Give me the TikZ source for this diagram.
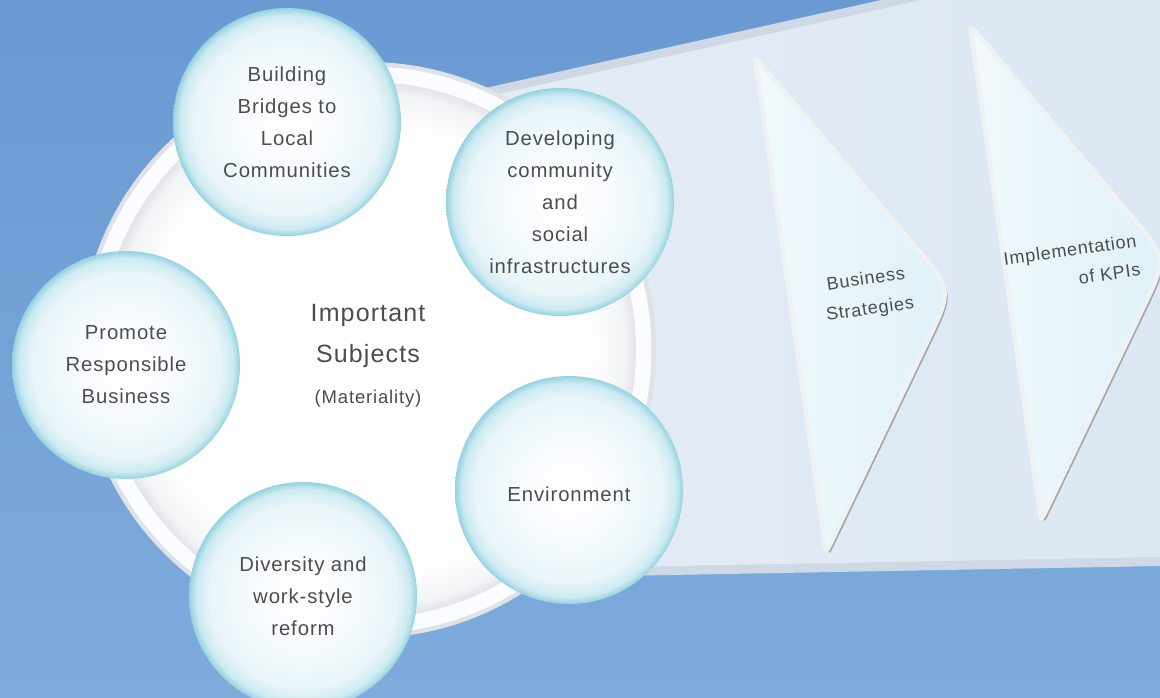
\documentclass[tikz,border=0pt]{standalone}
\usepackage{fontspec}
\setmainfont{Liberation Sans}
\newfontfamily\lblfont{Liberation Sans}[LetterSpace=4.5]
\usetikzlibrary{calc}

% palette
\definecolor{bgTop}{HTML}{6A9AD2}
\definecolor{bgBot}{HTML}{7EABDC}
\definecolor{panelBand}{HTML}{CFD9E5}
\definecolor{panelL}{HTML}{E5ECF6}
\definecolor{panelR}{HTML}{DCE7F3}
\definecolor{rimGray}{HTML}{DFE2E6}
\definecolor{rimWhite}{HTML}{FAFCFE}
\definecolor{diskEdge}{HTML}{E2E5E9}
\definecolor{diskMid}{HTML}{F2F4F6}
\definecolor{bubA}{HTML}{F7FBFD}
\definecolor{bubB}{HTML}{E8F5F9}
\definecolor{bubC}{HTML}{CBEAF1}
\definecolor{bubEdge}{HTML}{95D2DF}
\definecolor{txt}{HTML}{4D4D4D}
\definecolor{triL}{HTML}{F2F9FC}
\definecolor{triR}{HTML}{DEF1F7}
\definecolor{triRim}{HTML}{F0F1F2}
\definecolor{triShadow}{HTML}{A3A7AC}

% glassy topic bubble: white core, cyan rim at the edge (25bp = circle edge)
\pgfdeclareradialshading{bubbleshade}{\pgfpoint{0bp}{0bp}}{color(0bp)=(white); color(11bp)=(bubA); color(20.5bp)=(bubB); color(23.5bp)=(bubC); color(25bp)=(bubEdge); color(50bp)=(bubEdge)}
% central disk: white with a soft grey inner edge
\pgfdeclareradialshading{diskshade}{\pgfpoint{0bp}{0bp}}{color(0bp)=(white); color(20.5bp)=(white); color(24bp)=(diskMid); color(25bp)=(diskEdge); color(50bp)=(diskEdge)}

\tikzset{
  topic/.style={circle, minimum size=228pt, inner sep=0pt, shading=bubbleshade,
    text=txt, align=center, font=\lblfont\fontsize{20.3}{32}\selectfont},
  steplabel/.style={text=txt, align=center, inner sep=0pt,
    font=\lblfont\fontsize{18}{30}\selectfont},
  arrowtri/.style={preaction={fill=triShadow, transform canvas={shift={(3pt,-3pt)}}},
    left color=triL, right color=triR, draw=triRim, line width=4.5pt}
}

\begin{document}
\begin{tikzpicture}[x=1pt, y=-1pt]
  % backdrop
  \shade[top color=bgTop, bottom color=bgBot] (0,0) rectangle (1160,698);
  \useasboundingbox (0,0) rectangle (1160,698);
  \clip (0,0) rectangle (1160,698);

  % widening panel behind the steps
  \fill[panelBand] (400,107) -- (1160,-62) -- (1160,566) -- (400,580) -- cycle;
  \shade[left color=panelL, right color=panelR] (400,116) -- (1160,-53) -- (1160,557) -- (400,571) -- cycle;

  % step chevrons (rounded triangles)
  \coordinate (tA1) at (755,57);  \coordinate (tB1) at (952,290);  \coordinate (tC1) at (826,553);
  \coordinate (tA2) at (970,25);  \coordinate (tB2) at (1167,258); \coordinate (tC2) at (1041,521);
  \foreach \i in {1,2}{
    \path[arrowtri] ($(tA\i)!0.5!(tC\i)$) -- ($(tA\i)!14pt!(tC\i)$) .. controls (tA\i) .. ($(tA\i)!14pt!(tB\i)$)
      -- ($(tB\i)!56pt!(tA\i)$) .. controls (tB\i) .. ($(tB\i)!56pt!(tC\i)$)
      -- ($(tC\i)!14pt!(tB\i)$) .. controls (tC\i) .. ($(tC\i)!14pt!(tA\i)$) -- cycle;
  }
  \node[steplabel, rotate=8] (strat) at (868,295) {Business\\Strategies};
  \node[steplabel, rotate=8, align=right, font=\lblfont\fontsize{18}{29}\selectfont] (kpi) at (1072,264) {Implementation\\of KPIs};

  % central materiality disk
  \fill[rimGray] (368,350) circle[radius=288pt];
  \fill[rimWhite] (368,350) circle[radius=283.5pt];
  \path[shading=diskshade] (368,350) circle[radius=268pt];
  \node[text=txt, align=center, inner sep=0pt, font=\lblfont\fontsize{25}{41}\selectfont] (core) at (368,356)
    {Important\\Subjects\\{\fontsize{18.5}{39}\selectfont (Materiality)}};

  % topic bubbles
  \node[topic] (bub1) at (287,122) {Building\\Bridges to\\Local\\Communities};
  \node[topic] (bub2) at (560,202) {Developing\\community\\and\\social\\infrastructures};
  \node[topic] (bub3) at (126,365) {Promote\\Responsible\\Business};
  \node[topic] (bub4) at (569,490) {\raisebox{-4pt}[\height][\depth]{Environment}};
  \node[topic] (bub5) at (303,596) {Diversity and\\work-style\\reform};
\end{tikzpicture}
\end{document}
